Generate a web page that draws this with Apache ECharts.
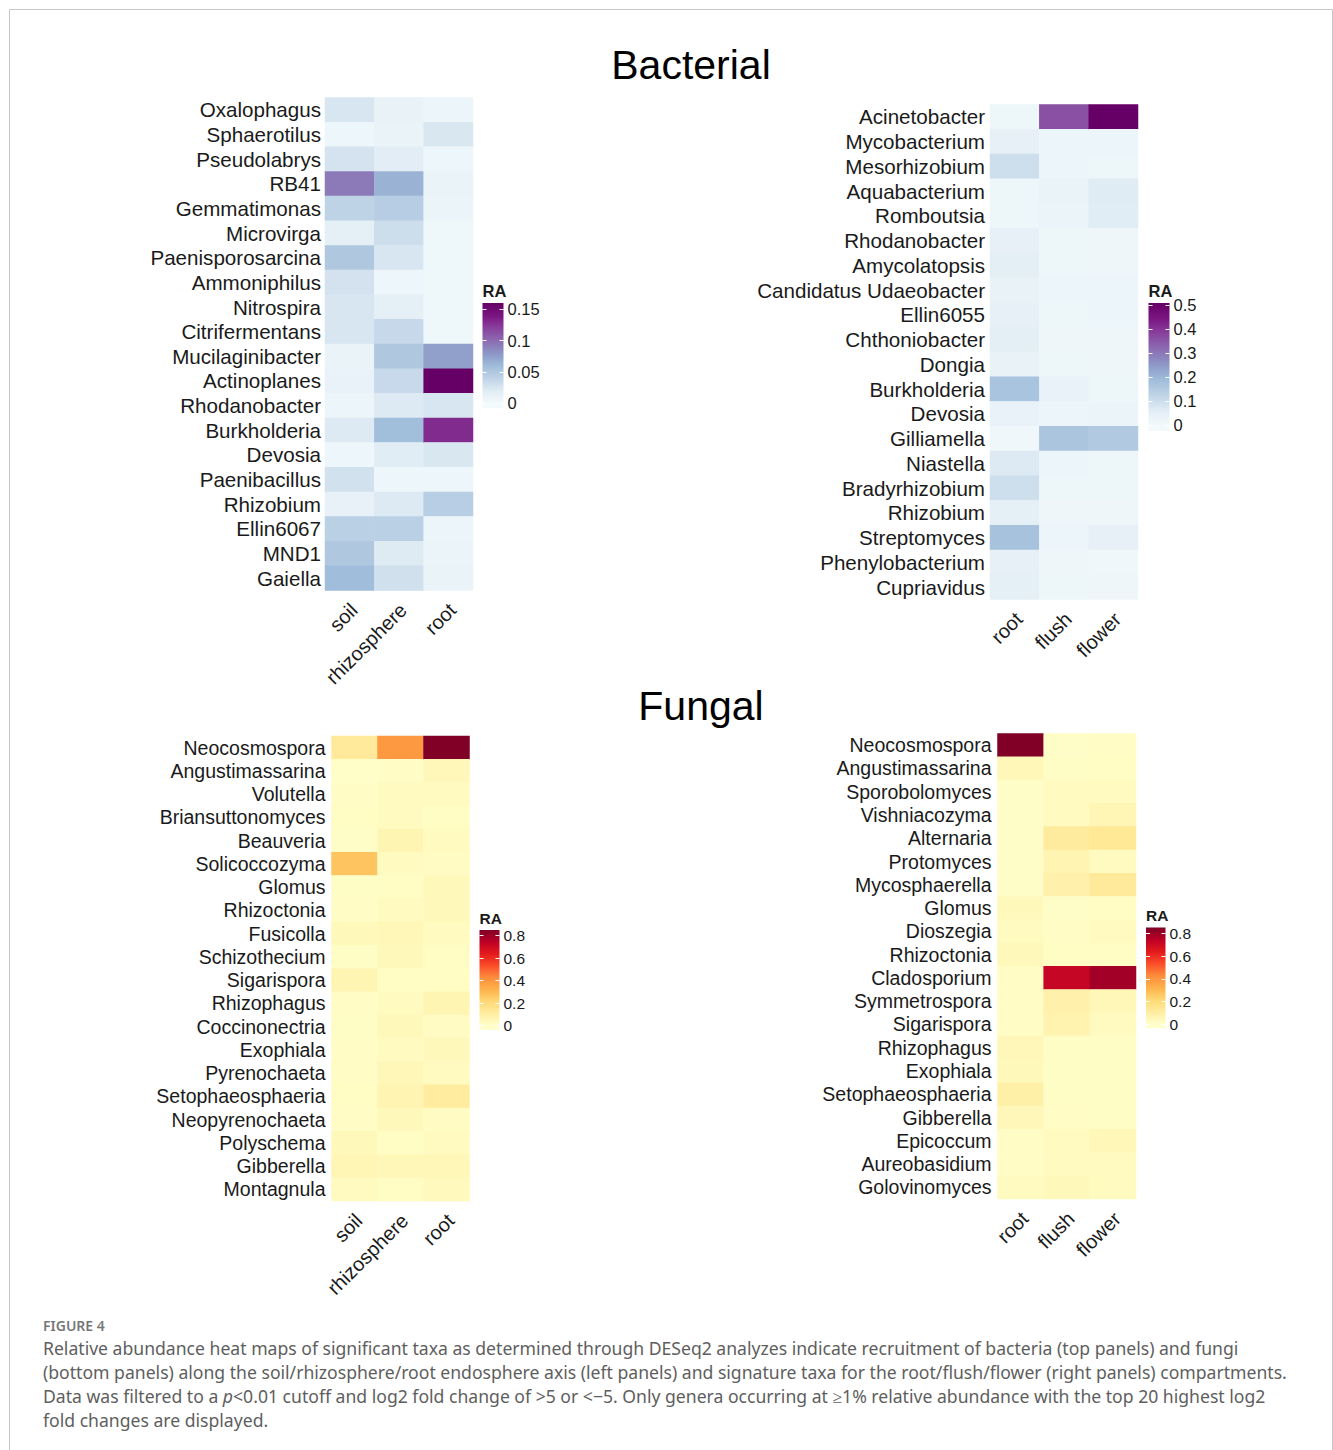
<!DOCTYPE html>
<html><head><meta charset="utf-8">
<script src="https://cdn.jsdelivr.net/npm/echarts@6/dist/echarts.min.js"></script>
<style>html,body{margin:0;padding:0;background:#fff}#c{width:1333px;height:1450px}</style>
</head><body><div id="c"></div>
<script>
// ---------------- DATA ----------------
const bacLeftCats = ['soil', 'rhizosphere', 'root'];
const bacLeftTaxa = ['Oxalophagus','Sphaerotilus','Pseudolabrys','RB41','Gemmatimonas','Microvirga','Paenisporosarcina','Ammoniphilus','Nitrospira','Citrifermentans','Mucilaginibacter','Actinoplanes','Rhodanobacter','Burkholderia','Devosia','Paenibacillus','Rhizobium','Ellin6067','MND1','Gaiella'];
const bacLeftSoil  = [0.025,0.006,0.027,0.093,0.040,0.015,0.050,0.028,0.025,0.025,0.009,0.011,0.007,0.022,0.006,0.029,0.013,0.043,0.050,0.059];
const bacLeftRhizo = [0.012,0.010,0.018,0.065,0.045,0.032,0.025,0.006,0.016,0.036,0.050,0.035,0.022,0.058,0.019,0.006,0.022,0.043,0.021,0.030];
const bacLeftRoot  = [0.007,0.024,0.006,0.010,0.008,0.005,0.005,0.005,0.005,0.005,0.075,0.160,0.025,0.130,0.024,0.006,0.044,0.007,0.008,0.009];

const bacRightCats = ['root', 'flush', 'flower'];
const bacRightTaxa = ['Acinetobacter','Mycobacterium','Mesorhizobium','Aquabacterium','Romboutsia','Rhodanobacter','Amycolatopsis','Candidatus Udaeobacter','Ellin6055','Chthoniobacter','Dongia','Burkholderia','Devosia','Gilliamella','Niastella','Bradyrhizobium','Rhizobium','Streptomyces','Phenylobacterium','Cupriavidus'];
const bacRightRoot   = [0.020,0.045,0.100,0.020,0.020,0.045,0.055,0.038,0.045,0.052,0.038,0.170,0.035,0.012,0.070,0.100,0.048,0.175,0.045,0.050];
const bacRightFlush  = [0.360,0.022,0.025,0.030,0.028,0.020,0.020,0.025,0.020,0.018,0.020,0.035,0.022,0.165,0.022,0.020,0.018,0.024,0.018,0.020];
const bacRightFlower = [0.510,0.022,0.020,0.065,0.060,0.018,0.018,0.025,0.025,0.018,0.018,0.020,0.028,0.155,0.020,0.020,0.018,0.045,0.015,0.018];

const funLeftCats = ['soil', 'rhizosphere', 'root'];
const funLeftTaxa = ['Neocosmospora','Angustimassarina','Volutella','Briansuttonomyces','Beauveria','Solicoccozyma','Glomus','Rhizoctonia','Fusicolla','Schizothecium','Sigarispora','Rhizophagus','Coccinonectria','Exophiala','Pyrenochaeta','Setophaeosphaeria','Neopyrenochaeta','Polyschema','Gibberella','Montagnula'];
const funLeftSoil  = [0.120,0.010,0.015,0.020,0.012,0.270,0.014,0.018,0.040,0.014,0.060,0.016,0.014,0.016,0.016,0.020,0.016,0.040,0.058,0.030];
const funLeftRhizo = [0.390,0.015,0.030,0.030,0.060,0.030,0.020,0.028,0.050,0.040,0.020,0.028,0.040,0.030,0.048,0.065,0.040,0.020,0.050,0.020];
const funLeftRoot  = [0.850,0.045,0.030,0.020,0.028,0.022,0.040,0.040,0.028,0.020,0.020,0.060,0.022,0.040,0.028,0.110,0.022,0.028,0.050,0.036];

const funRightCats = ['root', 'flush', 'flower'];
const funRightTaxa = ['Neocosmospora','Angustimassarina','Sporobolomyces','Vishniacozyma','Alternaria','Protomyces','Mycosphaerella','Glomus','Dioszegia','Rhizoctonia','Cladosporium','Symmetrospora','Sigarispora','Rhizophagus','Exophiala','Setophaeosphaeria','Gibberella','Epicoccum','Aureobasidium','Golovinomyces'];
const funRightRoot   = [0.850,0.050,0.012,0.012,0.012,0.012,0.012,0.040,0.028,0.040,0.016,0.016,0.016,0.045,0.040,0.090,0.045,0.016,0.016,0.030];
const funRightFlush  = [0.012,0.014,0.028,0.028,0.115,0.065,0.080,0.012,0.018,0.020,0.720,0.080,0.070,0.014,0.014,0.014,0.016,0.028,0.028,0.040];
const funRightFlower = [0.016,0.020,0.028,0.058,0.130,0.030,0.120,0.020,0.028,0.020,0.790,0.050,0.028,0.014,0.014,0.014,0.014,0.048,0.028,0.030];

const bacLeftTicks  = [0, 0.05, 0.1, 0.15];
const bacRightTicks = [0, 0.1, 0.2, 0.3, 0.4, 0.5];
const funTicks      = [0, 0.2, 0.4, 0.6, 0.8];

const bacPalette = ['#F3FAFC','#E0ECF4','#BFD3E6','#9EBCDA','#8C96C6','#8C6BB1','#88419D','#7A1480','#660066'];
const funPalette = ['#FFFFCC','#FFEDA0','#FED976','#FEB24C','#FD8D3C','#FC4E2A','#E31A1C','#BD0026','#800026'];

const titleTexts = ['Bacterial', 'Fungal'];
const captionLabel = 'FIGURE 4';
const captionLines = [
  'Relative abundance heat maps of significant taxa as determined through DESeq2 analyzes indicate recruitment of bacteria (top panels) and fungi',
  '(bottom panels) along the soil/rhizosphere/root endosphere axis (left panels) and signature taxa for the root/flush/flower (right panels) compartments.',
  'Data was filtered to a {i|p}<0.01 cutoff and log2 fold change of >5 or <\u22125. Only genera occurring at \u22651% relative abundance with the top 20 highest log2',
  'fold changes are displayed.'
];

// ---------------- LAYOUT ----------------
const FONT = 'Liberation Sans';
const CAPFONT = 'Noto Sans';
const panels = [
  {taxa: bacLeftTaxa, cats: bacLeftCats, cols: [bacLeftSoil, bacLeftRhizo, bacLeftRoot], pal: bacPalette,
   vm: [0, 0.16], leg: [-0.0072, 0.160], ticks: bacLeftTicks,
   grid: {left: 325, top: 97.5, width: 148, height: 493}, lgrid: {left: 482.5, top: 303, width: 21, height: 105},
   fs: 20.6, lfs: 16.5, ym: 4},
  {taxa: bacRightTaxa, cats: bacRightCats, cols: [bacRightRoot, bacRightFlush, bacRightFlower], pal: bacPalette,
   vm: [0, 0.51], leg: [-0.023, 0.508], ticks: bacRightTicks,
   grid: {left: 990, top: 104.5, width: 148, height: 495}, lgrid: {left: 1148.5, top: 303, width: 21, height: 128},
   fs: 20.6, lfs: 16.5, ym: 5},
  {taxa: funLeftTaxa, cats: funLeftCats, cols: [funLeftSoil, funLeftRhizo, funLeftRoot], pal: funPalette,
   vm: [0, 0.85], leg: [-0.04, 0.849], ticks: funTicks,
   grid: {left: 331.5, top: 736, width: 138, height: 465}, lgrid: {left: 479.5, top: 930, width: 20, height: 100},
   fs: 19.5, lfs: 15.5, ym: 6},
  {taxa: funRightTaxa, cats: funRightCats, cols: [funRightRoot, funRightFlush, funRightFlower], pal: funPalette,
   vm: [0, 0.85], leg: [-0.035, 0.853], ticks: funTicks,
   grid: {left: 997.5, top: 733.5, width: 138.5, height: 465.5}, lgrid: {left: 1146, top: 927.5, width: 19.5, height: 100.5},
   fs: 19.5, lfs: 15.5, ym: 6}
];

function gradStops(pal, vmMin, vmMax, lo, hi) {
  const n = pal.length;
  const stops = pal.map((c, i) => {
    const v = vmMin + i / (n - 1) * (vmMax - vmMin);
    return {offset: Math.min(1, Math.max(0, (v - lo) / (hi - lo))), color: c};
  });
  if (stops[0].offset > 0) stops.unshift({offset: 0, color: pal[0]});
  if (stops[stops.length - 1].offset < 1) stops.push({offset: 1, color: pal[n - 1]});
  return stops;
}

const grid = [], xAxis = [], yAxis = [], series = [], visualMap = [];
panels.forEach((p, k) => {
  grid.push(Object.assign({}, p.grid));
  xAxis.push({
    type: 'category', gridIndex: k, data: p.cats, position: 'bottom',
    axisLine: {show: false}, axisTick: {show: false}, splitLine: {show: false},
    axisLabel: {rotate: 45, margin: 12, verticalAlign: 'top', lineHeight: 12, fontSize: 20, fontFamily: FONT, color: '#1a1a1a', interval: 0}
  });
  yAxis.push({
    type: 'category', gridIndex: k, data: p.taxa, inverse: true,
    axisLine: {show: false}, axisTick: {show: false}, splitLine: {show: false},
    axisLabel: {margin: p.ym, fontSize: p.fs, fontFamily: FONT, color: '#1a1a1a', interval: 0}
  });
  const data = [];
  p.cols.forEach((col, xi) => col.forEach((v, yi) => data.push([xi, yi, v])));
  series.push({
    type: 'heatmap', xAxisIndex: k, yAxisIndex: k, data: data,
    itemStyle: {borderWidth: 0}, emphasis: {disabled: true}, silent: true, progressive: 0
  });
  visualMap.push({
    type: 'continuous', show: false, seriesIndex: k, dimension: 2,
    min: p.vm[0], max: p.vm[1], inRange: {color: p.pal}
  });
});

panels.forEach((p, k) => {
  const gi = 4 + k;
  grid.push(Object.assign({}, p.lgrid));
  xAxis.push({type: 'value', gridIndex: gi, min: 0, max: 1, show: false});
  yAxis.push({
    type: 'value', gridIndex: gi, min: p.leg[0], max: p.leg[1], position: 'left', z: 10,
    name: 'RA', nameLocation: 'end', nameGap: 4,
    nameTextStyle: {align: 'left', verticalAlign: 'bottom', fontWeight: 'bold', fontSize: p.lfs, fontFamily: FONT, color: '#1a1a1a', padding: 0},
    axisLine: {show: false}, splitLine: {show: false},
    axisTick: {show: true, inside: true, length: 4, lineStyle: {color: '#ffffff', width: 1}, customValues: p.ticks},
    axisLabel: {show: false}
  });
  yAxis.push({
    type: 'value', gridIndex: gi, min: p.leg[0], max: p.leg[1], position: 'right', z: 10,
    axisLine: {show: false}, splitLine: {show: false},
    axisTick: {show: true, inside: true, length: 4, lineStyle: {color: '#ffffff', width: 1}, customValues: p.ticks},
    axisLabel: {show: true, margin: 4, fontSize: p.lfs, fontFamily: FONT, color: '#1a1a1a', customValues: p.ticks}
  });
});
panels.forEach((p, k) => {
  const gi = 4 + k;
  const yi = 4 + 2 * k;
  const stops = gradStops(p.pal, p.vm[0], p.vm[1], p.leg[0], p.leg[1]);
  series.push({
    type: 'custom', xAxisIndex: gi, yAxisIndex: yi, silent: true, z: 1,
    data: [[p.leg[0], p.leg[1]]],
    encode: {x: [], y: [0, 1]},
    renderItem: function (params, api) {
      const lo = api.value(0), hi = api.value(1);
      const a = api.coord([0, hi]);
      const b = api.coord([1, lo]);
      return {
        type: 'rect',
        shape: {x: a[0], y: a[1], width: b[0] - a[0], height: b[1] - a[1]},
        style: {fill: new echarts.graphic.LinearGradient(0, 1, 0, 0, stops)}
      };
    }
  });
});

const graphic = [
  {type: 'rect', silent: true, shape: {x: 9.5, y: 9.5, width: 1323, height: 1470},
   style: {fill: 'none', stroke: '#c8c8c8', lineWidth: 1}},
  {type: 'text', x: 691, y: 65, silent: true,
   style: {text: titleTexts[0], fontSize: 41, fontFamily: FONT, fill: '#000', align: 'center', verticalAlign: 'middle'}},
  {type: 'text', x: 701, y: 706, silent: true,
   style: {text: titleTexts[1], fontSize: 41, fontFamily: FONT, fill: '#000', align: 'center', verticalAlign: 'middle'}},
  {type: 'text', x: 43, y: 1325, silent: true,
   style: {text: captionLabel, fontSize: 14, fontWeight: 600, fontFamily: CAPFONT, fill: '#777', align: 'left', verticalAlign: 'middle'}}
];
captionLines.forEach((t, i) => {
  graphic.push({type: 'text', x: 43, y: 1348 + 24 * i, silent: true,
    style: {text: t, fontSize: 17.6, fontFamily: CAPFONT, fill: '#5e5e5e', align: 'left', verticalAlign: 'middle',
      rich: {i: {fontStyle: 'italic', fontSize: 17.6, fontFamily: CAPFONT, fill: '#5e5e5e'}}}});
});

const chart = echarts.init(document.getElementById('c'), null, {renderer: 'svg', width: 1333, height: 1450});
chart.setOption({
  animation: false,
  backgroundColor: '#ffffff',
  grid: grid, xAxis: xAxis, yAxis: yAxis, visualMap: visualMap, series: series, graphic: graphic
});
</script>
</body></html>
